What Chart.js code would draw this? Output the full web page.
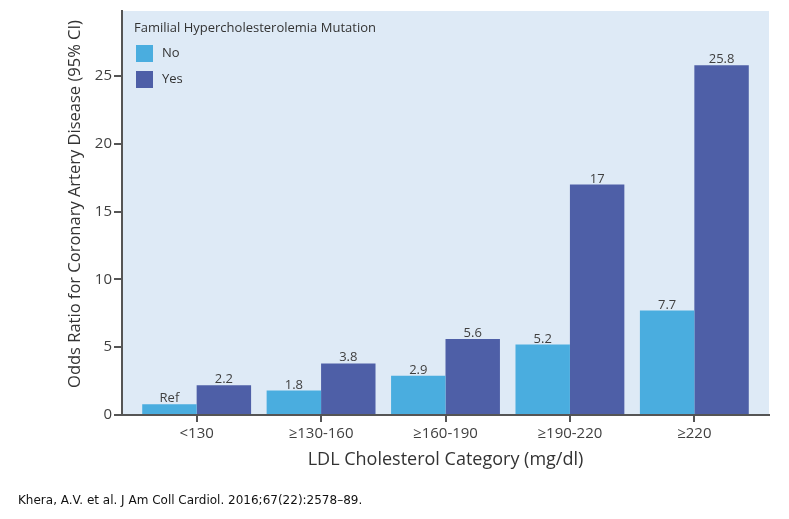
<!DOCTYPE html>
<html>
<head>
<meta charset="utf-8">
<script src="https://cdn.jsdelivr.net/npm/chart.js@4.4.0/dist/chart.umd.min.js"></script>
<style>
html, body { margin: 0; padding: 0; background: #fff; }
#wrap { position: relative; width: 789px; height: 519px; }
#cite { position: absolute; left: 18px; top: 493px; font: 12px "DejaVu Sans", sans-serif; color: #111; white-space: nowrap; }
</style>
</head>
<body>
<div id="wrap">
  <canvas id="chart" width="789" height="519"></canvas>
  <div id="cite">Khera, A.V. et al. J Am Coll Cardiol. 2016;67(22):2578–89.</div>
</div>
<script>
// Data
const categories = ['<130', '≥130-160', '≥160-190', '≥190-220', '≥220'];
const noValues = [0.8, 1.8, 2.9, 5.2, 7.7];
const yesValues = [2.2, 3.8, 5.6, 17, 25.8];
const noLabels = ['Ref', '1.8', '2.9', '5.2', '7.7'];
const yesLabels = ['2.2', '3.8', '5.6', '17', '25.8'];
const yTicks = [0, 5, 10, 15, 20, 25];
const legendTitle = 'Familial Hypercholesterolemia Mutation';
const yTitle = 'Odds Ratio for Coronary Artery Disease (95% CI)';
const xTitle = 'LDL Cholesterol Category (mg/dl)';

const FONT = '"Open Sans", sans-serif';
const axisColor = '#555';
const textColor = '#3f3f3f';

// light blue panel behind the bars
const panelBg = {
    id: 'panelBg',
    beforeDraw(chart) {
        const { ctx, chartArea: a } = chart;
        ctx.save();
        ctx.fillStyle = '#deeaf6';
        ctx.fillRect(a.left, a.top, a.right - a.left, a.bottom - a.top);
        ctx.restore();
    }
};

// value labels above each bar
const barLabels = {
    id: 'barLabels',
    afterDatasetsDraw(chart) {
        const ctx = chart.ctx;
        ctx.save();
        ctx.font = '13px ' + FONT;
        ctx.fillStyle = textColor;
        ctx.textAlign = 'center';
        ctx.textBaseline = 'alphabetic';
        [noLabels, yesLabels].forEach((labels, d) => {
            chart.getDatasetMeta(d).data.forEach((bar, i) => {
                ctx.fillText(labels[i], bar.x, bar.y - 2);
            });
        });
        ctx.restore();
    }
};

// y title sits a bit above the panel's middle in the original
const yTitlePlugin = {
    id: 'yTitlePlugin',
    afterDraw(chart) {
        const ctx = chart.ctx;
        ctx.save();
        ctx.translate(75, 204);
        ctx.rotate(-Math.PI / 2);
        ctx.font = '500 16.5px ' + FONT;
        ctx.fillStyle = '#333';
        ctx.textAlign = 'center';
        ctx.textBaseline = 'middle';
        ctx.fillText(yTitle, 0, 0);
        ctx.restore();
    }
};

// legend inside the panel, top-left
const insideLegend = {
    id: 'insideLegend',
    afterDraw(chart) {
        const ctx = chart.ctx;
        const left = chart.chartArea.left + 12;
        ctx.save();
        ctx.textBaseline = 'middle';
        ctx.textAlign = 'left';
        ctx.fillStyle = '#333';
        ctx.font = '13px ' + FONT;
        ctx.fillText(legendTitle, left, 28);
        chart.data.datasets.forEach((ds, i) => {
            const y = 45 + i * 26;
            ctx.fillStyle = ds.backgroundColor;
            ctx.fillRect(left + 2, y, 17, 17);
            ctx.fillStyle = '#333';
            ctx.fillText(ds.label, left + 28, y + 8.5);
        });
        ctx.restore();
    }
};

const ctx = document.getElementById('chart').getContext('2d');
new Chart(ctx, {
    type: 'bar',
    data: {
        datasets: [
            {
                label: 'No',
                data: noValues.map((v, i) => ({ x: i, y: v })),
                backgroundColor: '#4aaddf',
                categoryPercentage: 0.875,
                barPercentage: 1.0
            },
            {
                label: 'Yes',
                data: yesValues.map((v, i) => ({ x: i, y: v })),
                backgroundColor: '#4e5fa7',
                categoryPercentage: 0.875,
                barPercentage: 1.0
            }
        ]
    },
    options: {
        responsive: false,
        animation: false,
        layout: { padding: { top: 9, right: 20, left: 0, bottom: 0 } },
        plugins: {
            legend: { display: false },
            tooltip: { enabled: false }
        },
        scales: {
            x: {
                type: 'linear',
                min: -0.6,
                max: 4.6,
                offset: false,
                afterBuildTicks: s => { s.ticks = categories.map((c, i) => ({ value: i })); },
                afterFit: s => { s.height = 104; },
                border: { color: axisColor, width: 2 },
                grid: { display: true, drawOnChartArea: false, drawTicks: true, tickLength: 7, color: axisColor, lineWidth: 2, offset: false },
                ticks: {
                    color: textColor,
                    font: { family: FONT, size: 15 },
                    padding: 3,
                    maxRotation: 0,
                    autoSkip: false,
                    callback: v => categories[v]
                },
                title: {
                    display: true,
                    text: xTitle,
                    color: '#333',
                    font: { family: FONT, size: 18, weight: '500' },
                    padding: { top: 0, bottom: 48 }
                }
            },
            y: {
                min: 0,
                max: 29.8,
                afterBuildTicks: s => { s.ticks = yTicks.map(v => ({ value: v })); },
                afterFit: s => { s.width = 122; },
                border: { color: axisColor, width: 2 },
                grid: { display: true, drawOnChartArea: false, drawTicks: true, tickLength: 8, color: axisColor, lineWidth: 2 },
                ticks: {
                    color: textColor,
                    font: { family: FONT, size: 15 },
                    padding: 2
                },
                title: { display: false }
            }
        }
    },
    plugins: [panelBg, barLabels, yTitlePlugin, insideLegend]
});
</script>
</body>
</html>
